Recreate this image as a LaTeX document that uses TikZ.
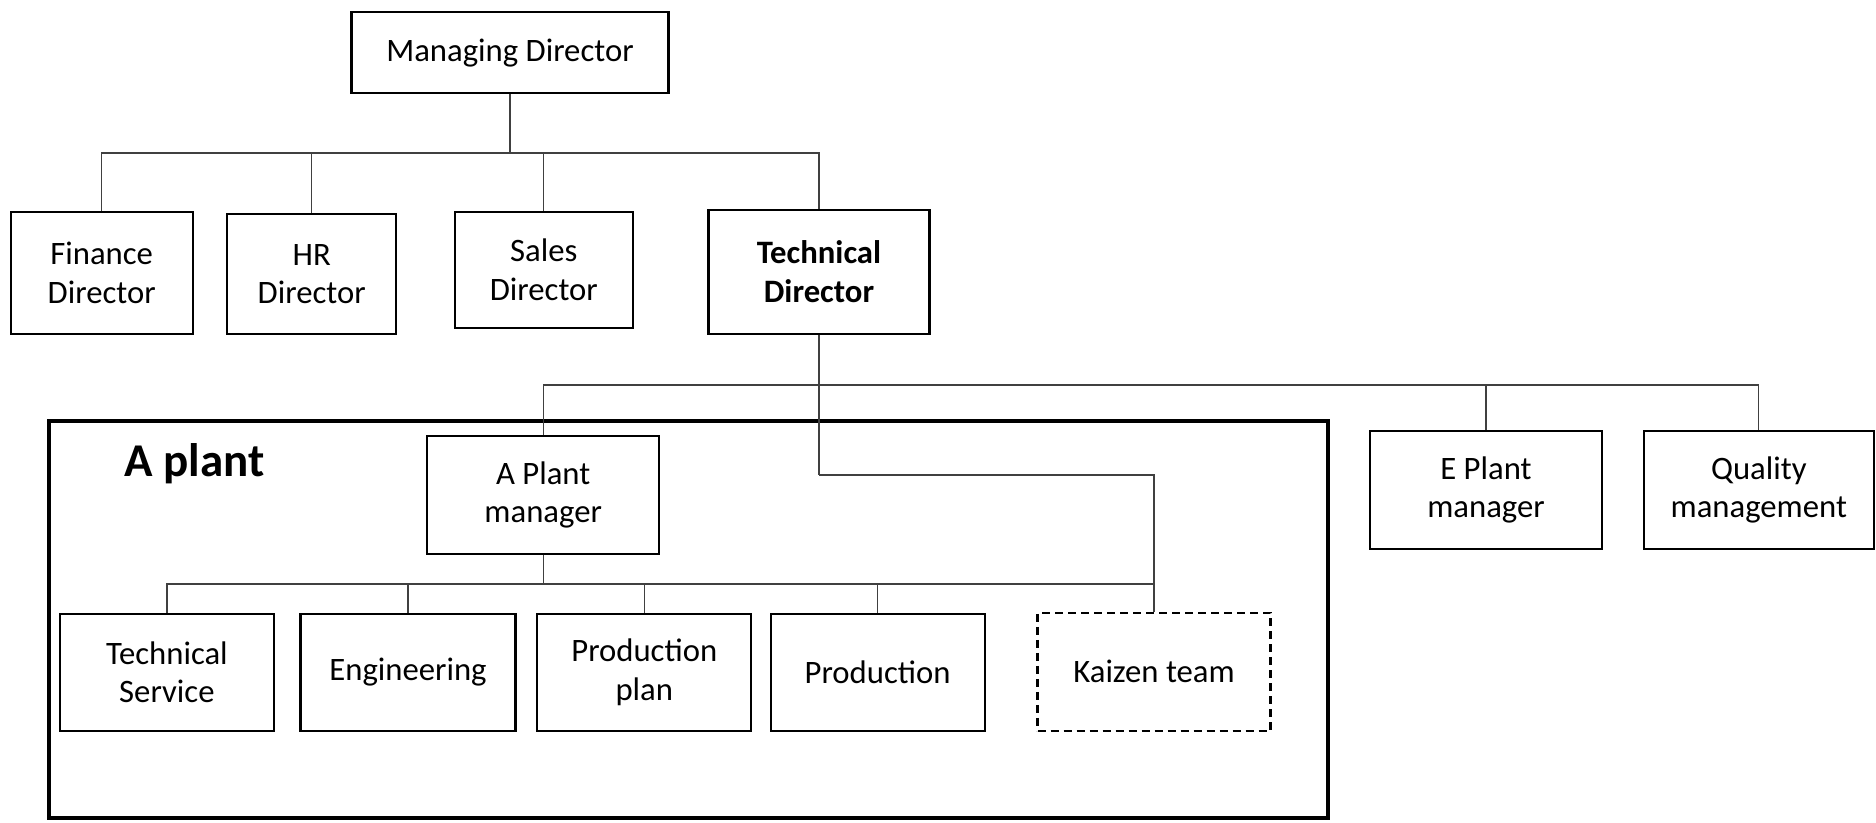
\documentclass[tikz,border=0pt]{standalone}
\usepackage{fontspec}
\setmainfont{Carlito}
\begin{document}
\begin{tikzpicture}[x=1pt,y=-1pt,
  unit/.style={draw=black,line width=2.2pt,inner sep=0pt,align=center,
    font=\fontsize{32.7}{38.3}\selectfont},
  link/.style={draw=black!75,line width=1.3pt},
  plantframe/.style={draw=black,line width=4.5pt}]
\useasboundingbox (0,0) rectangle (1876,822);

% plant enclosure
\draw[plantframe] (49,421) rectangle (1328,818);
\node[anchor=west,font=\fontsize{47}{50}\selectfont\bfseries] (plantlabel) at (121,464) {A plant};

% top level
\node[unit,minimum width=317pt,minimum height=81pt] (md) at (510,52.7) {Managing Director};

% directors
\node[unit,minimum width=182pt,minimum height=122pt] (fin) at (101.7,272.8) {Finance\\Director};
\node[unit,minimum width=169pt,minimum height=120pt] (hr) at (311.7,274) {HR\\Director};
\node[unit,minimum width=178pt,minimum height=116pt] (sales) at (543.8,269.8) {Sales\\Director};
\node[unit,minimum width=221pt,minimum height=124pt,font=\fontsize{32.7}{38.3}\selectfont\bfseries] (td) at (819,271.6) {Technical\\Director};

% managers
\node[unit,fill=white,minimum width=232pt,minimum height=118pt] (apm) at (543.2,494.7) {A Plant\\manager};
\node[unit,minimum width=232pt,minimum height=118pt] (epm) at (1486,490) {E Plant\\manager};
\node[unit,minimum width=230pt,minimum height=118pt] (qm) at (1758.8,490) {Quality\\management};

% departments of A plant
\node[unit,minimum width=214pt,minimum height=117pt] (ts) at (166.9,672.4) {Technical\\Service};
\node[unit,minimum width=215pt,minimum height=117pt] (eng) at (408,672.4) {Engineering};
\node[unit,minimum width=214pt,minimum height=117pt] (pp) at (644.3,672.4) {Production\\plan};
\node[unit,minimum width=214pt,minimum height=117pt] (prod) at (877.6,672.4) {Production};
\node[unit,dash pattern=on 8pt off 5pt,minimum width=233pt,minimum height=118pt] (kz) at (1154,671.8) {Kaizen team};

% bus junctions
\coordinate (mdbus) at (md.south |- 0,153);
\coordinate (tdbus) at (td.south |- 0,385);
\coordinate (kzbend) at (td.south |- 0,475);
\coordinate (apmbus) at (apm.south |- 0,584);

% managing director to directors
\draw[link] (md.south) -- (mdbus);
\draw[link] (mdbus) -| (fin.north);
\draw[link] (mdbus) -| (hr.north);
\draw[link] (mdbus) -| (sales.north);
\draw[link] (mdbus) -| (td.north);

% technical director to managers
\draw[link] (td.south) -- (kzbend);
\draw[link] (tdbus) -| (apm.north);
\draw[link] (tdbus) -| (epm.north);
\draw[link] (tdbus) -| (qm.north);
\draw[link] (kzbend) -| (kz.north);

% A plant manager to departments
\draw[link] (apm.south) -- (apmbus);
\draw[link] (apmbus) -| (ts.north);
\draw[link] (apmbus) -| (eng.north);
\draw[link] (apmbus) -| (pp.north);
\draw[link] (apmbus) -| (prod.north);
\draw[link] (apmbus) -| (kz.north);
\end{tikzpicture}
\end{document}
